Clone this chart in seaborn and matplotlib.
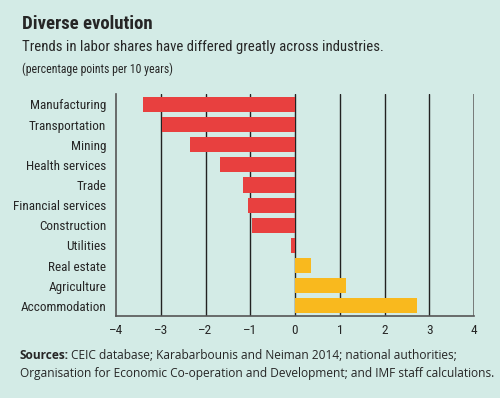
import pandas as pd, numpy as np
import matplotlib
matplotlib.use('Agg')
import matplotlib.pyplot as plt
import seaborn as sns

industries = ['Manufacturing', 'Transportation', 'Mining', 'Health services', 'Trade',
              'Financial services', 'Construction', 'Utilities', 'Real estate',
              'Agriculture', 'Accommodation']
change = [-3.40, -2.98, -2.34, -1.68, -1.16, -1.06, -0.97, -0.10, 0.36, 1.14, 2.72]
x_ticks = [-4, -3, -2, -1, 0, 1, 2, 3, 4]
x_labels = ['\u20134', '\u20133', '\u20132', '\u20131', '0', '1', '2', '3', '4']

bg = '#D3EBE6'
red = '#E8403F'
yellow = '#F9B91E'

df = pd.DataFrame({'industry': industries, 'change': change})
df['sign'] = np.where(df['change'] < 0, 'neg', 'pos')

sns.set_style('white')
narrow = ['Roboto Condensed', 'Roboto', 'DejaVu Sans']
plt.rcParams['font.family'] = narrow

fig = plt.figure(figsize=(5, 3.98), dpi=100, facecolor=bg)
ax = fig.add_axes([0.232, 0.206, 0.716, 0.557])
ax.set_facecolor(bg)

sns.barplot(data=df, x='change', y='industry', hue='sign', orient='h',
            palette={'neg': red, 'pos': yellow}, width=0.75, dodge=False,
            legend=False, saturation=1, linewidth=0, ax=ax)

ax.set_xlim(-4, 4)
ax.set_ylim(len(industries) - 0.5, -0.5)
ax.set_xticks(x_ticks)
ax.set_xticklabels(x_labels, fontsize=9.5)
ax.set_xlabel('')
ax.set_ylabel('')
for v in x_ticks[1:-1]:
    ax.axvline(v, color='#222222', lw=1.0, zorder=0)
ax.axvline(4, color='#666666', lw=1.2, zorder=0)

# category boundary ticks on the left spine
ax.set_yticks(np.arange(len(industries)))
ax.set_yticklabels(industries, fontsize=9.5)
ax.tick_params(axis='y', length=0, pad=7)
ax.set_yticks(np.arange(-0.5, len(industries), 1), minor=True)
ax.tick_params(axis='y', which='minor', direction='in', length=9, width=1, color='#555555')
ax.tick_params(axis='x', direction='in', length=5, width=1, color='#555555', pad=6)

for s in ['top', 'right']:
    ax.spines[s].set_visible(False)
for s in ['left', 'bottom']:
    ax.spines[s].set_color('#555555')
    ax.spines[s].set_linewidth(1.2)

fig.text(0.044, 0.928, 'Diverse evolution', fontsize=13.5, fontweight='bold', family=narrow)
fig.text(0.044, 0.872, 'Trends in labor shares have differed greatly across industries.',
         fontsize=10.6, family=narrow)
fig.text(0.044, 0.817, '(percentage points per 10 years)', fontsize=8.5, family=narrow)

src_font = ['Open Sans', 'DejaVu Sans']
t = fig.text(0.04, 0.099, 'Sources:', fontsize=8.6, fontweight='bold', family=src_font)
fig.canvas.draw()
bb = t.get_window_extent()
fig.text(bb.x1 / fig.bbox.width + 0.004, 0.099,
         'CEIC database; Karabarbounis and Neiman 2014; national authorities;',
         fontsize=8.6, family=src_font)
fig.text(0.04, 0.052,
         'Organisation for Economic Co-operation and Development; and IMF staff calculations.',
         fontsize=8.6, family=src_font)

fig.savefig('out.png', dpi=100, facecolor=bg)
